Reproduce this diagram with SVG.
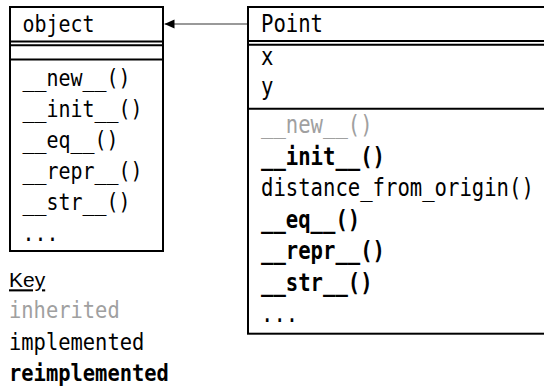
<svg xmlns="http://www.w3.org/2000/svg" width="544" height="388" viewBox="0 0 544 388">
<style>
.box{fill:#fff;stroke:#000;stroke-width:2}
.ln{stroke:#000;stroke-width:2;fill:none}
.t{font-family:"DejaVu Sans Mono",monospace;font-size:23.5px;fill:#000}
.p{font-size:24px}
.inh{fill:#a0a0a0}
.re{font-weight:bold}
.key{font-family:"Liberation Sans",Arial,sans-serif;font-size:21px;text-decoration:underline;fill:#000}
.conn{stroke:#777;stroke-width:1.4;fill:none}
</style>
<defs>
<marker id="ah" viewBox="0 0 10 10" refX="10" refY="5" markerWidth="10" markerHeight="10" markerUnits="userSpaceOnUse" orient="auto">
<path d="M0,0.5 L10,5 L0,9.5 Z" fill="#000"/>
</marker>
</defs>
<g id="connectors">
<line class="conn" x1="248" y1="24" x2="164.5" y2="24" marker-end="url(#ah)"/>
</g>
<g id="object">
<rect class="box" x="10" y="7" width="153" height="244"/>
<line class="ln" x1="10" y1="41.5" x2="163" y2="41.5"/>
<line class="ln" x1="10" y1="45.2" x2="163" y2="45.2"/>
<line class="ln" x1="10" y1="59.5" x2="163" y2="59.5"/>
<text class="t" x="22.5" y="31.5" textLength="72" lengthAdjust="spacingAndGlyphs">object</text>
<text class="t" x="22.5" y="86" textLength="108" lengthAdjust="spacingAndGlyphs">__new__()</text>
<text class="t" x="22.5" y="117" textLength="120" lengthAdjust="spacingAndGlyphs">__init__()</text>
<text class="t" x="22.5" y="148" textLength="96" lengthAdjust="spacingAndGlyphs">__eq__()</text>
<text class="t" x="22.5" y="179" textLength="120" lengthAdjust="spacingAndGlyphs">__repr__()</text>
<text class="t" x="22.5" y="210" textLength="108" lengthAdjust="spacingAndGlyphs">__str__()</text>
<text class="t" x="22.5" y="241" textLength="36" lengthAdjust="spacingAndGlyphs">...</text>
</g>
<g id="Point">
<rect class="box" x="248" y="7" width="310" height="326.7"/>
<line class="ln" x1="248" y1="41" x2="558" y2="41"/>
<line class="ln" x1="248" y1="44.7" x2="558" y2="44.7"/>
<line class="ln" x1="248" y1="108.7" x2="558" y2="108.7"/>
<text class="t p" x="261" y="31.5" textLength="62" lengthAdjust="spacingAndGlyphs">Point</text>
<text class="t p" x="261" y="65" textLength="12.4" lengthAdjust="spacingAndGlyphs">x</text>
<text class="t p" x="261" y="95" textLength="12.4" lengthAdjust="spacingAndGlyphs">y</text>
<text class="t p inh" x="261" y="133" textLength="111.6" lengthAdjust="spacingAndGlyphs">__new__()</text>
<text class="t p re" x="261" y="164.5" textLength="124" lengthAdjust="spacingAndGlyphs">__init__()</text>
<text class="t p" x="261" y="196" textLength="272.8" lengthAdjust="spacingAndGlyphs">distance_from_origin()</text>
<text class="t p re" x="261" y="227.5" textLength="99.2" lengthAdjust="spacingAndGlyphs">__eq__()</text>
<text class="t p re" x="261" y="259" textLength="124" lengthAdjust="spacingAndGlyphs">__repr__()</text>
<text class="t p re" x="261" y="290.5" textLength="111.6" lengthAdjust="spacingAndGlyphs">__str__()</text>
<text class="t p" x="261" y="322" textLength="37.2" lengthAdjust="spacingAndGlyphs">...</text>
</g>
<g id="key">
<text class="key" x="9" y="287.3">Key</text>
<text class="t inh" x="9" y="318.3" textLength="110.7" lengthAdjust="spacingAndGlyphs">inherited</text>
<text class="t" x="9" y="349.5" textLength="135.3" lengthAdjust="spacingAndGlyphs">implemented</text>
<text class="t re" x="9" y="380.7" textLength="159.9" lengthAdjust="spacingAndGlyphs">reimplemented</text>
</g>
</svg>
